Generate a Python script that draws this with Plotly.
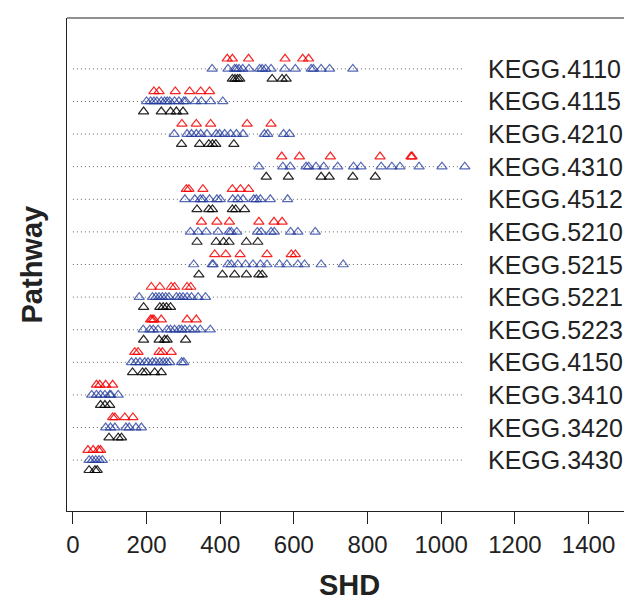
import plotly.graph_objects as go

pathways = ["KEGG.4110", "KEGG.4115", "KEGG.4210", "KEGG.4310", "KEGG.4512",
            "KEGG.5210", "KEGG.5215", "KEGG.5221", "KEGG.5223", "KEGG.4150",
            "KEGG.3410", "KEGG.3420", "KEGG.3430"]

red_shd = [
    [419, 433, 477, 576, 624, 640],
    [220, 234, 278, 317, 347, 371],
    [296, 335, 374, 473, 538],
    [567, 615, 699, 834, 918, 921],
    [308, 315, 353, 433, 455, 477],
    [349, 391, 425, 505, 546, 568],
    [385, 415, 454, 527, 593, 604],
    [213, 236, 267, 276, 310, 320],
    [211, 215, 220, 240, 310, 335],
    [168, 177, 234, 243, 267],
    [64, 73, 89, 108],
    [108, 114, 141, 163],
    [41, 55, 69, 75],
]

blue_shd = [
    [378, 421, 439, 444, 451, 461, 478, 507, 514, 523, 538, 575, 604, 647, 653, 674, 697, 760],
    [200, 211, 220, 228, 240, 249, 256, 263, 276, 288, 301, 306, 333, 349, 374, 407],
    [275, 310, 322, 335, 347, 364, 389, 398, 412, 428, 444, 462, 520, 529, 572, 588],
    [505, 570, 590, 633, 640, 660, 681, 719, 762, 782, 837, 866, 888, 940, 1002, 1064],
    [304, 331, 346, 353, 371, 391, 400, 434, 448, 462, 491, 498, 509, 536, 583],
    [319, 340, 362, 394, 424, 430, 445, 501, 511, 538, 547, 591, 611, 658],
    [328, 378, 381, 421, 430, 448, 469, 489, 509, 527, 561, 581, 611, 629, 674, 734],
    [180, 216, 225, 234, 243, 252, 261, 281, 290, 299, 310, 322, 340, 360],
    [191, 209, 218, 231, 256, 265, 276, 288, 295, 304, 317, 331, 346, 373],
    [159, 171, 182, 195, 204, 216, 225, 236, 245, 254, 263, 295, 301],
    [51, 64, 75, 87, 100, 103, 123],
    [89, 102, 114, 144, 153, 171, 186],
    [44, 53, 62, 71, 80],
]

black_shd = [
    [433, 440, 447, 453, 541, 568, 579],
    [192, 240, 265, 281, 299],
    [295, 344, 369, 379, 388, 437],
    [525, 585, 674, 696, 760, 821],
    [337, 369, 379, 433, 442, 466],
    [337, 389, 409, 424, 471, 502],
    [342, 406, 439, 471, 505, 514],
    [192, 236, 245, 254, 265],
    [192, 234, 249, 256, 306],
    [162, 189, 198, 222, 240],
    [75, 87, 100],
    [98, 123, 132],
    [44, 60, 66],
]

x_ticks = [0, 200, 400, 600, 800, 1000, 1200, 1400]

FONT = "Liberation Sans, Arial, Helvetica, sans-serif"
TXT = "#222222"
n = len(pathways)
pos = [n - i for i in range(n)]  # top pathway at highest y

fig = go.Figure()

# dotted guide lines
xmax = max(max(v) for v in red_shd + blue_shd + black_shd)
lx, ly = [], []
for p in pos:
    lx += [0, xmax, None]
    ly += [p, p, None]
fig.add_trace(go.Scatter(x=lx, y=ly, mode="lines",
                         line=dict(color="#666666", width=1, dash="1px,3px"),
                         hoverinfo="skip", showlegend=False))

series = [
    (red_shd, 0.31, "rgba(245,0,0,0.85)"),
    (blue_shd, 0.0, "rgba(30,55,155,0.75)"),
    (black_shd, -0.31, "rgba(0,0,0,0.85)"),
]
for vals, off, col in series:
    xs, ys = [], []
    for p, row in zip(pos, vals):
        xs += row
        ys += [p + off] * len(row)
    fig.add_trace(go.Scatter(x=xs, y=ys, mode="markers",
                             marker=dict(symbol="triangle-up-open", size=9,
                                         color=col, line=dict(width=1.2, color=col)),
                             showlegend=False, hoverinfo="x"))

for p, name in zip(pos, pathways):
    fig.add_annotation(x=1122, y=p, xref="x", yref="y", text=name,
                       showarrow=False, xanchor="left", yanchor="middle",
                       font=dict(family=FONT, size=25, color=TXT))

fig.add_annotation(x=0.5, y=-0.15, xref="paper", yref="paper", text="<b>SHD</b>",
                   showarrow=False, xanchor="center", yanchor="middle",
                   font=dict(family=FONT, size=29, color=TXT))
fig.add_annotation(x=-0.062, y=0.5, xref="paper", yref="paper", text="<b>Pathway</b>",
                   showarrow=False, textangle=-90, xanchor="center", yanchor="middle",
                   font=dict(family=FONT, size=29, color=TXT))

# top border of the box
fig.add_shape(type="line", xref="paper", yref="paper", x0=0, x1=1, y0=1, y1=1,
              line=dict(color="#222222", width=1.2))

# page body has an 8px default margin, so the figure is sized 8px smaller
fig.update_layout(
    width=624, height=594,
    margin=dict(l=59, r=0, t=10, b=91),
    paper_bgcolor="white", plot_bgcolor="white",
    xaxis=dict(range=[-16, 1518], tickvals=x_ticks, ticks="outside", ticklen=12,
               tickwidth=1.2, tickcolor="#222222", showline=True, linecolor="#222222",
               linewidth=1.2, showgrid=False, zeroline=False,
               tickfont=dict(family=FONT, size=24, color=TXT)),
    yaxis=dict(range=[-0.56, n + 1.56], showticklabels=False, ticks="",
               showline=True, linecolor="#222222", linewidth=1.2,
               showgrid=False, zeroline=False),
)

fig.write_html("out.html")
